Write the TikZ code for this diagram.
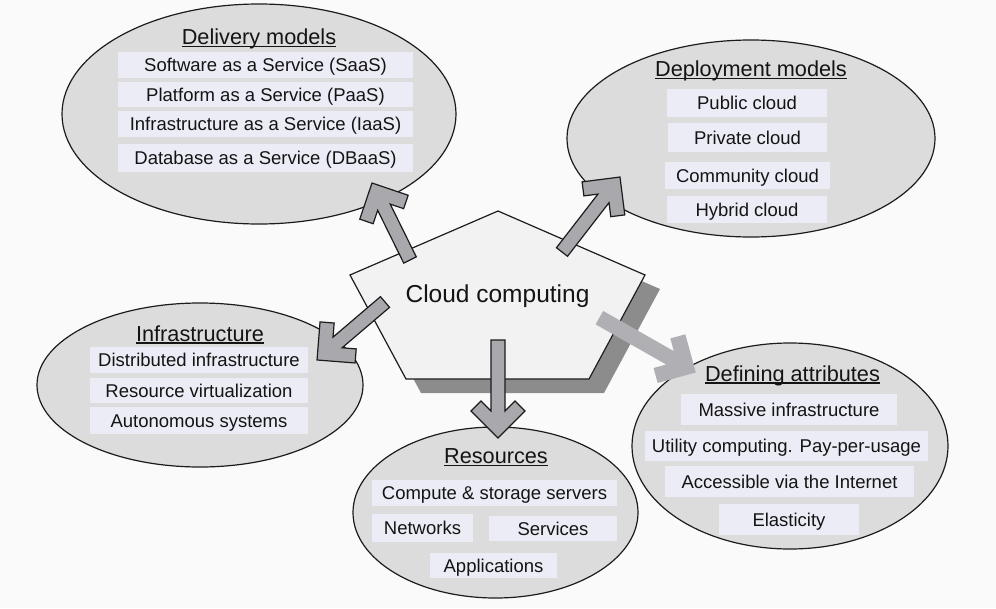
\documentclass[tikz,border=0pt]{standalone}
\usepackage{fontspec}
\setmainfont{Liberation Sans}
\usetikzlibrary{shapes.geometric,calc}
\definecolor{bgc}{RGB}{250,250,250}
\definecolor{ellc}{RGB}{220,220,220}
\definecolor{boxc}{RGB}{236,236,246}
\definecolor{pentc}{RGB}{242,242,242}
\definecolor{shadc}{RGB}{140,140,140}
\definecolor{arrc}{RGB}{168,168,173}
\definecolor{arrl}{RGB}{176,176,180}
\definecolor{linec}{RGB}{28,28,28}
\definecolor{txtc}{RGB}{20,20,20}
\newcommand\ulx[1]{\setbox0=\hbox{#1}\rlap{\rule[-2.6pt]{\wd0}{1.3pt}}\box0}
\newcommand\chevarrow[3]{%
  \path let \p1=($(#3)-(#2)$) in \pgfextra{%
    \pgfmathsetmacro\arang{atan2(\y1,\x1)}%
    \pgfmathsetmacro\arlen{veclen(\x1,\y1)}%
    \global\let\arangG\arang\global\let\arlenG\arlen};
  \draw[#1, shift={(#2)}, rotate=\arangG]
    (0,7) -- (\arlenG-27,7) -- (\arlenG-37,17) -- (\arlenG-27,27) -- (\arlenG,0)
    -- (\arlenG-27,-27) -- (\arlenG-37,-17) -- (\arlenG-27,-7) -- (0,-7) -- cycle;
}
\begin{document}
\begin{tikzpicture}[x=1pt,y=-1pt,
  oval/.style={ellipse, draw=linec, line width=1.2pt, fill=ellc, inner sep=0pt},
  item/.style={fill=boxc, inner sep=0pt, text height=13.3pt, text depth=0pt,
    font=\fontsize{18.5}{22}\selectfont, text=txtc},
  heading/.style={inner sep=0pt, anchor=base, font=\fontsize{21.7}{26}\selectfont, text=txtc},
  darrow/.style={fill=arrc, draw=linec, line width=1.2pt, line join=miter},
  larrow/.style={fill=arrl, draw=arrl, line width=1.4pt, line join=miter},
  shd/.style={xshift=15pt, yshift=-14pt}]
\fill[bgc] (0,0) rectangle (996,608);
\useasboundingbox (0,0) rectangle (996,608);

% Delivery models
\node[oval, minimum width=394pt, minimum height=220pt] (dm) at (259,114) {};
\node[heading] (dmt) at (259,44.8) {\ulx{Delivery models}};
\node[item, minimum width=295pt, minimum height=26pt] (d1) at (265.5,65) {Software as a Service (SaaS)};
\node[item, minimum width=295pt, minimum height=25pt] (d2) at (265.5,94.5) {Platform as a Service (PaaS)};
\node[item, minimum width=295pt, minimum height=26pt] (d3) at (265.5,124) {Infrastructure as a Service (IaaS)};
\node[item, minimum width=295pt, minimum height=28pt] (d4) at (265.5,158) {Database as a Service (DBaaS)};

% Deployment models
\node[oval, minimum width=368pt, minimum height=197pt] (pm) at (751,138.5) {};
\node[heading] (pmt) at (751,76.5) {\ulx{Deployment models}};
\node[item, minimum width=160pt, minimum height=28pt] (p1) at (747,103) {Public cloud};
\node[item, minimum width=159pt, minimum height=29pt] (p2) at (747.5,137.5) {Private cloud};
\node[item, minimum width=165pt, minimum height=27pt] (p3) at (747.5,175.5) {Community cloud};
\node[item, minimum width=160pt, minimum height=27pt] (p4) at (747,209.5) {Hybrid cloud};

% Infrastructure
\node[oval, minimum width=326pt, minimum height=164pt] (im) at (200,385) {};
\node[heading] (imt) at (200,341) {\ulx{Infrastructure}};
\node[item, minimum width=218pt, minimum height=26pt] (i1) at (199,360) {Distributed infrastructure};
\node[item, minimum width=218pt, minimum height=25pt] (i2) at (199,390.5) {Resource virtualization};
\node[item, minimum width=218pt, minimum height=27pt] (i3) at (199,420.5) {Autonomous systems};

% Resources
\node[oval, minimum width=285pt, minimum height=171pt] (rm) at (495.5,512.5) {};
\node[heading] (rmt) at (496,463.5) {\ulx{Resources}};
\node[item, minimum width=245pt, minimum height=26pt] (r1) at (494.5,493) {Compute \& storage servers};
\node[item, minimum width=101pt, minimum height=28pt] (r2) at (422.5,528) {Networks};
\node[item, minimum width=128pt, minimum height=25pt] (r3) at (553,528.5) {Services};
\node[item, minimum width=127pt, minimum height=25pt] (r4) at (493.5,565.5) {Applications};

% Defining attributes
\node[oval, minimum width=316pt, minimum height=206pt] (am) at (790,446) {};
\node[heading] (amt) at (792.5,381) {\ulx{Defining attributes}};
\node[item, minimum width=216pt, minimum height=31pt] (a1) at (789,409.5) {Massive infrastructure};
\node[item, minimum width=283pt, minimum height=30pt] (a2) at (786.5,446) {Utility computing. Pay-per-usage};
\node[item, minimum width=249pt, minimum height=31pt] (a3) at (789.5,481.5) {Accessible via the Internet};
\node[item, minimum width=140pt, minimum height=31pt] (a4) at (789,519.5) {Elasticity};

% Pentagon with shadow
\coordinate (q1) at (498,211);
\coordinate (q2) at (645,275);
\coordinate (q3) at (589,379);
\coordinate (q4) at (406,379);
\coordinate (q5) at (350,275);
\fill[shadc] ([shd]q1) -- ([shd]q2) -- ([shd]q3) -- ([shd]q4) -- ([shd]q5) -- cycle;
\draw[fill=pentc, draw=linec, line width=1.2pt, line join=miter] (q1) -- (q2) -- (q3) -- (q4) -- (q5) -- cycle;
\node[inner sep=0pt, anchor=base, font=\fontsize{24.5}{29}\selectfont, text=txtc] (cc) at (497.5,302) {Cloud computing};

% Arrows
\coordinate (s1) at (410,260); \coordinate (t1) at (372,183);
\coordinate (s2) at (562,252); \coordinate (t2) at (620,177);
\coordinate (s3) at (385,302); \coordinate (t3) at (317,360);
\coordinate (s4) at (498,340); \coordinate (t4) at (498,438);
\coordinate (s5) at (600,318); \coordinate (t5) at (695,372);
\chevarrow{darrow}{s1}{t1}
\chevarrow{darrow}{s2}{t2}
\chevarrow{darrow}{s3}{t3}
\chevarrow{darrow}{s4}{t4}
\chevarrow{larrow}{s5}{t5}
\end{tikzpicture}
\end{document}
